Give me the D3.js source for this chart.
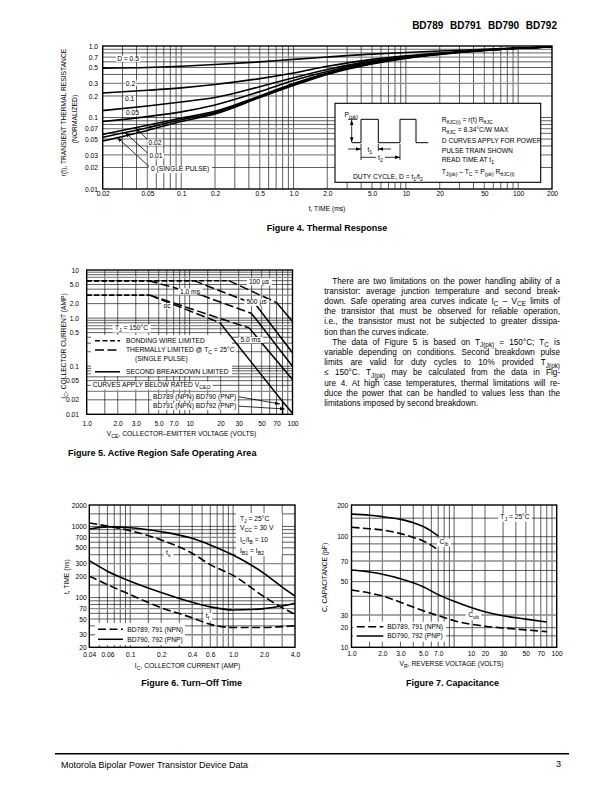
<!DOCTYPE html>
<html><head><meta charset="utf-8">
<script src="https://cdn.jsdelivr.net/npm/d3@7"></script>
<style>
body{margin:0;background:#fff}
svg{display:block}
text{font-family:"Liberation Sans",Arial,Helvetica,sans-serif;white-space:pre}
</style></head>
<body><svg id="page" width="614" height="792"></svg>
<script>
// ---------------- DATA ----------------
// Figure 4 – thermal response
const fig4Time = [0.02,0.05,0.1,0.2,0.5,1,2,5,10,20,50,100,200];
const fig4R_D050 = [0.49,0.50,0.52,0.55,0.60,0.65,0.70,0.77,0.81,0.85,0.90,0.94,0.97];
const fig4R_D020 = [0.22,0.24,0.26,0.29,0.35,0.42,0.52,0.65,0.73,0.80,0.88,0.93,0.97];
const fig4R_D010 = [0.125,0.145,0.165,0.19,0.27,0.36,0.47,0.62,0.71,0.78,0.87,0.93,0.97];
const fig4R_D005 = [0.088,0.103,0.12,0.15,0.23,0.33,0.44,0.60,0.70,0.78,0.87,0.93,0.97];
const fig4R_D002 = [0.058,0.078,0.098,0.122,0.20,0.30,0.42,0.58,0.69,0.77,0.87,0.93,0.97];
const fig4R_D001 = [0.053,0.072,0.093,0.117,0.195,0.29,0.41,0.57,0.68,0.77,0.87,0.93,0.97];
const fig4R_D000 = [0.047,0.066,0.088,0.112,0.19,0.28,0.40,0.56,0.67,0.76,0.86,0.93,0.97];
const fig4XTicks = [0.02,0.05,0.1,0.2,0.5,1,2,5,10,20,50,100,200];
const fig4XLabels = ["0.02","0.05","0.1","0.2","0.5","1.0","2.0","5.0","10","20","50","100","200"];
const fig4YTicks = [0.01,0.02,0.03,0.05,0.07,0.1,0.2,0.3,0.5,0.7,1];
const fig4YLabels = ["0.01","0.02","0.03","0.05","0.07","0.1","0.2","0.3","0.5","0.7","1.0"];

// Figure 5 – safe operating area (limit type per segment)
const soa100usV = [1,24,70,100];      const soa100usI = [6,6,2.1,0.85];     const soa100usSeg = ["bond","thermal","sb"];
const soa500usV = [1,11,44,100];      const soa500usI = [6,6,1.9,0.19];     const soa500usSeg = ["bond","thermal","sb"];
const soa1msV   = [1,4,13,40,100];    const soa1msI   = [6,6,3.0,1.25,0.1]; const soa1msSeg   = ["bond","thermal","thermal","sb"];
const soa5msV   = [1,4.1,38,100];     const soa5msI   = [3,3,0.62,0.053];   const soa5msSeg   = ["bond","thermal","sb"];
const soaDcV    = [1,4.1,19.7,80,100];const soaDcI    = [3,3,0.8,0.0185,0.0105]; const soaDcSeg = ["bond","thermal","sb","sb"];
const soaRatedV = [80, 100];   // BD789/790 and BD791/792 VCEO
const fig5XTicks = [1,2,3,5,7,10,20,30,50,70,100];
const fig5XLabels = ["1.0","2.0","3.0","5.0","7.0","10","20","30","50","70","100"];
const fig5YTicks = [0.01,0.02,0.05,0.1,0.5,1,2,5,10];
const fig5YLabels = ["0.01","0.02","0.05","0.1","0.5","1.0","2.0","5.0","10"];

// Figure 6 – turn-off time
const fig6Ic = [0.04,0.06,0.1,0.2,0.4,0.6,1.0,2.0,3.0,4.0];
const fig6TsNPN = [1120,1010,870,645,420,290,205,103,72,58];
const fig6TsPNP = [920,985,960,843,681,550,396,219,140,105];
const fig6TfNPN = [200,152,110,72,52,42,38,38,39,40];
const fig6TfPNP = [330,235,170,118,86,74,67,70,76,83];
const fig6XTicks = [0.04,0.06,0.1,0.2,0.4,0.6,1,2,4];
const fig6XLabels = ["0.04","0.06","0.1","0.2","0.4","0.6","1.0","2.0","4.0"];
const fig6YTicks = [20,30,50,70,100,200,300,500,700,1000,2000];
const fig6YLabels = ["20","30","50","70","100","200","300","500","700","1000","2000"];

// Figure 7 – capacitance
const fig7VrIb = [1,1.5,2,3,4,5,6,7];
const fig7CibPNP = [164,160,155,146,136,125,113,102];
const fig7CibNPN = [123,119,116,107,99,94,88,82];
const fig7VrOb = [1,1.5,2,3,5,7,10,20,30,50,80];
const fig7CobPNP = [60.4,58.5,56.5,52.5,46.3,41,37,31.5,29.3,26.3,24];
const fig7CobNPN = [44,42,40.2,36.5,32,29.5,25,21,19.8,18.5,17.4];
const fig7XTicks = [1,2,3,5,7,10,20,30,50,70,100];
const fig7XLabels = ["1.0","2.0","3.0","5.0","7.0","10","20","30","50","70","100"];
const fig7YTicks = [10,20,30,50,70,100,200];
const fig7YLabels = ["10","20","30","50","70","100","200"];

// ---------------- HELPERS ----------------
const svg = d3.select("#page");
const FONT = '"Liberation Sans", Arial, Helvetica, sans-serif';
const FS = 6.7;
svg.append("rect").attr("width",614).attr("height",792).attr("fill","#fff");
const defs = svg.append("defs");
defs.append("marker").attr("id","ah").attr("viewBox","0 0 10 10").attr("refX",10).attr("refY",5)
  .attr("markerWidth",5).attr("markerHeight",5).attr("orient","auto-start-reverse").attr("markerUnits","userSpaceOnUse")
  .append("path").attr("d","M0,1.5 L10,5 L0,8.5 Z").attr("fill","#000");

function rich(t, s, fs){
  const parts = s.split(/(_\{[^}]*\})/);
  let shifted = false;
  parts.forEach(p=>{
    if(!p) return;
    if(p.startsWith("_{")){
      t.append("tspan").attr("font-size",fs*0.78).attr("dy",fs*0.3).text(p.slice(2,-1));
      shifted = true;
    } else {
      const ts = t.append("tspan").text(p);
      if(shifted){ ts.attr("dy",-fs*0.3); shifted=false; }
    }
  });
}
function txt(g, x, y, s, o={}){
  const fs = o.fs||FS;
  const t = g.append("text").attr("x",x).attr("y",y).attr("font-size",fs)
    .attr("text-anchor",o.anchor||"start").attr("fill","#000");
  if(o.bold) t.attr("font-weight","bold");
  if(o.rotate) t.attr("transform",`rotate(${o.rotate},${x},${y})`);
  if(o.ws!=null) t.attr("word-spacing",o.ws);
  rich(t, s, fs);
  if(o.box){
    const b = t.node().getBBox(); const p = o.pad==null?1.2:o.pad;
    g.insert("rect",()=>t.node()).attr("x",b.x-p).attr("y",b.y+0.5).attr("width",b.width+2*p).attr("height",b.height-1).attr("fill","#fff");
  }
  return t;
}
function gridVals(lo, hi, mants){
  const v=[];
  for(let d=Math.floor(Math.log10(lo))-1; d<=Math.ceil(Math.log10(hi)); d++){
    mants.forEach(m=>{ const val=+(m*Math.pow(10,d)).toPrecision(4); if(val>lo*1.0001 && val<hi*0.9999) v.push(val); });
  }
  return v;
}
function mant(v){ return +(v/Math.pow(10,Math.floor(Math.log10(v)+1e-9))).toPrecision(3); }
function drawGrid(g, x, y, xv, yv, grayX, grayY){
  const [x0,x1]=d3.extent(x.range()), [y0,y1]=d3.extent(y.range());
  g.append("g").selectAll("line").data(xv).join("line")
    .attr("x1",d=>x(d)).attr("x2",d=>x(d)).attr("y1",y0).attr("y2",y1)
    .attr("stroke",d=>grayX.includes(mant(d))?"#8a8a8a":"#1a1a1a")
    .attr("stroke-width",d=>grayX.includes(mant(d))?1.3:0.7);
  g.append("g").selectAll("line").data(yv).join("line")
    .attr("y1",d=>y(d)).attr("y2",d=>y(d)).attr("x1",x0).attr("x2",x1)
    .attr("stroke",d=>grayY.includes(mant(d))?"#8a8a8a":"#1a1a1a")
    .attr("stroke-width",d=>grayY.includes(mant(d))?1.3:0.7);
}
function frame(g, x, y){
  const [x0,x1]=d3.extent(x.range()), [y0,y1]=d3.extent(y.range());
  g.append("rect").attr("x",x0).attr("y",y0).attr("width",x1-x0).attr("height",y1-y0)
    .attr("fill","none").attr("stroke","#000").attr("stroke-width",1.4);
}
function axes(g, x, y, xt, xl, yt, yl, padX, padY){
  const bottom = d3.max(y.range()), left = d3.min(x.range());
  const ax = g.append("g").attr("transform",`translate(0,${bottom})`)
    .call(d3.axisBottom(x).tickValues(xt).tickFormat((d,i)=>xl[i]).tickSize(0).tickPadding(padX));
  const ay = g.append("g").attr("transform",`translate(${left},0)`)
    .call(d3.axisLeft(y).tickValues(yt).tickFormat((d,i)=>yl[i]).tickSize(0).tickPadding(padY));
  [ax,ay].forEach(a=>{ a.select(".domain").remove(); a.attr("font-size",FS).attr("font-family",FONT); a.selectAll("text").attr("fill","#000"); });
  return {ax, ay};
}
function logInterp(xs, ys, xv){
  for(let i=0;i<xs.length-1;i++){
    if(xv>=xs[i] && xv<=xs[i+1]){
      const f=(Math.log(xv)-Math.log(xs[i]))/(Math.log(xs[i+1])-Math.log(xs[i]));
      return Math.exp(Math.log(ys[i])+f*(Math.log(ys[i+1])-Math.log(ys[i])));
    }
  }
  return ys[ys.length-1];
}
function arrow(g, x1,y1,x2,y2,w=0.8){
  g.append("line").attr("x1",x1).attr("y1",y1).attr("x2",x2).attr("y2",y2)
    .attr("stroke","#000").attr("stroke-width",w).attr("marker-end","url(#ah)");
}

// ---------------- HEADER / FOOTER / TEXT ----------------
txt(svg, 557, 29.3, "BD789 BD791 BD790 BD792", {fs:10, bold:true, anchor:"end", ws:4});
svg.append("line").attr("x1",55).attr("x2",569).attr("y1",753.8).attr("y2",753.8).attr("stroke","#000").attr("stroke-width",1.5);
txt(svg, 61, 768, "Motorola Bipolar Power Transistor Device Data", {fs:9});
txt(svg, 561, 767, "3", {fs:9, anchor:"end"});

const bodyLines = [
 ["There are two limitations on the power handling ability of a",1,1],
 ["transistor: average junction temperature and second break-",0,1],
 ["down. Safe operating area curves indicate I_{C} – V_{CE} limits of",0,1],
 ["the transistor that must be observed for reliable operation,",0,1],
 ["i.e., the transistor must not be subjected to greater dissipa-",0,1],
 ["tion than the curves indicate.",0,0],
 ["The data of Figure 5 is based on T_{J(pk)} = 150°C; T_{C} is",1,1],
 ["variable depending on conditions. Second breakdown pulse",0,1],
 ["limits are valid for duty cycles to 10% provided T_{J(pk)}",0,1],
 ["≤ 150°C. T_{J(pk)} may be calculated from the data in Fig-",0,1],
 ["ure 4. At high case temperatures, thermal limitations will re-",0,1],
 ["duce the power that can be handled to values less than the",0,1],
 ["limitations imposed by second breakdown.",0,0]
];
const bodyG = svg.append("g");
bodyLines.forEach((L,i)=>{
  const x0 = L[1]?332.3:324.3, x1 = 560;
  const t = txt(bodyG, x0, 283.6+i*10.2, L[0], {fs:8.2});
  if(L[2]){
    const w = t.node().getComputedTextLength();
    const n = (L[0].match(/ /g)||[]).length;
    if(n>0) t.attr("word-spacing", (x1-x0-w)/n);
  }
});

// ---------------- FIGURE 4 ----------------
{
  const g = svg.append("g");
  const x = d3.scaleLog().domain([0.02,200]).range([102.7,552]);
  const y = d3.scaleLog().domain([0.01,1]).range([189,46]);
  drawGrid(g, x, y, gridVals(0.02,200,[1,2,3,4,5,6,7,8,9]), gridVals(0.01,1,[1,2,3,4,5,6,7,8,9]), [2,5], [3,7]);
  const series = [fig4R_D050,fig4R_D020,fig4R_D010,fig4R_D005,fig4R_D002,fig4R_D001,fig4R_D000];
  const line = d3.line().x((d,i)=>x(fig4Time[i])).y(d=>y(d)).curve(d3.curveMonotoneX);
  g.append("g").selectAll("path").data(series).join("path").attr("d",line)
    .attr("fill","none").attr("stroke","#000").attr("stroke-width",1.6);
  frame(g, x, y);
  axes(g, x, y, fig4XTicks, fig4XLabels, fig4YTicks, fig4YLabels, 2.7, 4.7);
  const a = g.append("g");
  txt(a, 128, 61.4, "D = 0.5", {anchor:"middle", box:true});
  txt(a, 130.5, 85.7, "0.2", {anchor:"middle", box:true});
  txt(a, 129.7, 101.4, "0.1", {anchor:"middle", box:true});
  txt(a, 132.5, 115.4, "0.05", {anchor:"middle", box:true});
  txt(a, 148.5, 145.1, "0.02", {box:true});
  txt(a, 149.5, 158.4, "0.01", {box:true});
  txt(a, 151, 171.4, "0 (SINGLE PULSE)", {box:true, pad:2.5});
  arrow(a, 147, 139, x(0.039), y(logInterp(fig4Time,fig4R_D002,0.039)));
  arrow(a, 147.5, 153, x(0.0316), y(logInterp(fig4Time,fig4R_D001,0.0316)));
  arrow(a, 149, 166.5, x(0.027), y(logInterp(fig4Time,fig4R_D000,0.027)));
  // inset box
  const b = g.append("g");
  b.append("rect").attr("x",335).attr("y",103.3).attr("width",205.7).attr("height",79).attr("fill","#fff").attr("stroke","#000").attr("stroke-width",1.1);
  b.append("polyline").attr("points","351.7,142.7 361,142.7 361,119.3 378.3,119.3 378.3,142.7 400,142.7 400,119.3 416,119.3 416,142.7 428.3,142.7")
    .attr("fill","none").attr("stroke","#000").attr("stroke-width",1);
  b.append("line").attr("x1",348).attr("x2",357).attr("y1",119.3).attr("y2",119.3).attr("stroke","#000").attr("stroke-width",0.8);
  b.append("line").attr("x1",351.7).attr("x2",351.7).attr("y1",120).attr("y2",142.2).attr("stroke","#000").attr("stroke-width",0.8)
    .attr("marker-start","url(#ah)").attr("marker-end","url(#ah)");
  txt(b, 344.5, 117.2, "P_{(pk)}");
  arrow(b, 348, 149, 361, 149);
  arrow(b, 391, 149, 378.3, 149);
  b.append("line").attr("x1",361).attr("x2",361).attr("y1",144).attr("y2",160).attr("stroke","#000").attr("stroke-width",0.8);
  b.append("line").attr("x1",378.3).attr("x2",378.3).attr("y1",144).attr("y2",151).attr("stroke","#000").attr("stroke-width",0.8);
  b.append("line").attr("x1",400).attr("x2",400).attr("y1",144).attr("y2",160).attr("stroke","#000").attr("stroke-width",0.8);
  txt(b, 367.5, 151.5, "t_{1}");
  b.append("line").attr("x1",361).attr("x2",400).attr("y1",157.3).attr("y2",157.3).attr("stroke","#000").attr("stroke-width",0.8)
    .attr("marker-end","url(#ah)");
  txt(b, 380.5, 159.8, "t_{2}", {anchor:"middle", box:true, pad:2});
  txt(b, 353, 179, "DUTY CYCLE, D = t_{1}/t_{2}");
  const tx=441.7;
  txt(b, tx, 122.4, "R_{θJC(t)} = r(t) R_{θJC}");
  txt(b, tx, 131.7, "R_{θJC} = 8.34°C/W MAX");
  txt(b, tx, 143.1, "D CURVES APPLY FOR POWER");
  txt(b, tx, 152.7, "PULSE TRAIN SHOWN");
  txt(b, tx, 162.4, "READ TIME AT t_{1}");
  txt(b, tx, 173.7, "T_{J(pk)} – T_{C} = P_{(pk)} R_{θJC(t)}");
  txt(g, 66.4, 112.5, "r(t), TRANSIENT THERMAL RESISTANCE", {anchor:"middle", rotate:-90});
  txt(g, 77.4, 119, "(NORMALIZED)", {anchor:"middle", rotate:-90});
  txt(g, 327, 210.6, "t, TIME (ms)", {anchor:"middle"});
  txt(svg, 327, 231, "Figure 4. Thermal Response", {fs:9, bold:true, anchor:"middle"});
}

// ---------------- FIGURE 5 ----------------
{
  const g = svg.append("g");
  const x = d3.scaleLog().domain([1,100]).range([86.7,292.5]);
  const y = d3.scaleLog().domain([0.01,10]).range([414.3,270]);
  drawGrid(g, x, y, gridVals(1,100,[1,1.5,2,3,4,5,6,7,8,9]), gridVals(0.01,10,[1,2,3,4,5,6,7,8,9]), [2,5], [3,7]);
  const styles = {bond:"5,2.5", thermal:"9,3.5", sb:null};
  const curves = [[soa100usV,soa100usI,soa100usSeg],[soa500usV,soa500usI,soa500usSeg],[soa1msV,soa1msI,soa1msSeg],[soa5msV,soa5msI,soa5msSeg],[soaDcV,soaDcI,soaDcSeg]];
  const segs = [];
  curves.forEach(([V,I,S])=>{ S.forEach((s,i)=>segs.push({s, p:[[V[i],I[i]],[V[i+1],I[i+1]]]})); });
  const leg = g.append("g");
  leg.append("rect").attr("x",91).attr("y",335).attr("width",141).attr("height",41).attr("fill","#fff");
  g.append("g").selectAll("path").data(segs).join("path")
    .attr("d",d=>d3.line().x(p=>x(p[0])).y(p=>y(p[1]))(d.p))
    .attr("fill","none").attr("stroke","#000").attr("stroke-width",1.5)
    .attr("stroke-dasharray",d=>styles[d.s]);
  g.append("line").attr("x1",x(soaRatedV[0])).attr("x2",x(soaRatedV[0]))
    .attr("y1",y(logInterp(soaDcV,soaDcI,soaRatedV[0]))).attr("y2",y(0.01)).attr("stroke","#000").attr("stroke-width",1.5);
  frame(g, x, y);
  axes(g, x, y, fig5XTicks, fig5XLabels, fig5YTicks, fig5YLabels, 6.6, 7.7);
  const a = g.append("g");
  txt(a, 259, 283.9, "100 µs", {anchor:"middle", box:true, pad:2});
  txt(a, 190, 293.9, "1.0 ms", {anchor:"middle", box:true, pad:2});
  txt(a, 256.5, 304.4, "500 µs", {anchor:"middle", box:true, pad:2});
  txt(a, 167, 308.4, "dc", {anchor:"middle", box:true, pad:2});
  txt(a, 250.5, 342.4, "5.0 ms", {anchor:"middle", box:true, pad:2});
  txt(a, 131.5, 330.1, "T_{J} = 150°C", {anchor:"middle", box:true, pad:2.5});
  const lx0=95, lx1=120, tx=126;
  [["bond",340.8,"BONDING WIRE LIMITED"],["thermal",350,"THERMALLY LIMITED @ T_{C} = 25°C"],["sb",371.8,"SECOND BREAKDOWN LIMITED"]].forEach(r=>{
    a.append("line").attr("x1",lx0).attr("x2",lx1).attr("y1",r[1]).attr("y2",r[1]).attr("stroke","#000").attr("stroke-width",1.5).attr("stroke-dasharray",styles[r[0]]);
    txt(a, tx, r[1]+2.4, r[2], {box:true, pad:1.5});
  });
  txt(a, 135, 360.9, "(SINGLE PULSE)", {box:true});
  txt(a, 92.7, 387, "CURVES APPLY BELOW RATED V_{CEO}", {box:true, pad:2});
  txt(a, 153, 399.1, "BD789 (NPN) BD790 (PNP)", {box:true, pad:1.5});
  txt(a, 153, 408.4, "BD791 (NPN) BD792 (PNP)", {box:true, pad:1.5});
  arrow(a, 239, 396.8, x(75.5), y(0.0164));
  arrow(a, 239, 406.2, x(84), y(0.0129));
  txt(g, 65.8, 346, "I_{C}, COLLECTOR CURRENT (AMP)", {anchor:"middle", rotate:-90});
  txt(g, 181.5, 435.7, "V_{CE}, COLLECTOR–EMITTER VOLTAGE (VOLTS)", {anchor:"middle"});
  txt(svg, 68, 455.5, "Figure 5. Active Region Safe Operating Area", {fs:9, bold:true});
}

// ---------------- FIGURE 6 ----------------
{
  const g = svg.append("g");
  const x = d3.scaleLog().domain([0.04,4]).range([89.3,295]);
  const y = d3.scaleLog().domain([20,2000]).range([647.3,505]);
  drawGrid(g, x, y, gridVals(0.04,4,[1,1.5,2,3,4,5,6,7,8,9]), gridVals(20,2000,[1,1.5,2,3,4,5,6,7,8,9]), [2,5], [3,7]);
  const line = d3.line().x((d,i)=>x(fig6Ic[i])).y(d=>y(d)).curve(d3.curveMonotoneX);
  const ser = [[fig6TsNPN,"8,3.5"],[fig6TfNPN,"8,3.5"],[fig6TsPNP,null],[fig6TfPNP,null]];
  g.append("g").selectAll("path").data(ser).join("path").attr("d",d=>line(d[0]))
    .attr("fill","none").attr("stroke","#000").attr("stroke-width",1.6).attr("stroke-dasharray",d=>d[1]);
  frame(g, x, y);
  axes(g, x, y, fig6XTicks, fig6XLabels, fig6YTicks, fig6YLabels, 5.3, 2.6);
  const a = g.append("g");
  const nb = a.append("g");
  nb.append("rect").attr("x",236).attr("y",513).attr("width",46).attr("height",43).attr("fill","#fff");
  txt(nb, 240, 520.7, "T_{J} = 25°C");
  txt(nb, 240, 530.1, "V_{CC} = 30 V");
  txt(nb, 240, 542.4, "I_{C}/I_{B} = 10");
  txt(nb, 240, 553.4, "I_{B1} = I_{B2}");
  txt(a, 168.3, 555.4, "t_{s}", {anchor:"middle", box:true, pad:2.5});
  txt(a, 207.5, 618.4, "t_{f}", {anchor:"middle", box:true, pad:2.5});
  a.append("rect").attr("x",95).attr("y",623).attr("width",90).attr("height",22).attr("fill","#fff");
  a.append("line").attr("x1",98).attr("x2",123).attr("y1",629.3).attr("y2",629.3).attr("stroke","#000").attr("stroke-width",1.5).attr("stroke-dasharray","8,3.5");
  a.append("line").attr("x1",98).attr("x2",123).attr("y1",639.3).attr("y2",639.3).attr("stroke","#000").attr("stroke-width",1.5);
  txt(a, 127.3, 631.7, "BD789, 791 (NPN)");
  txt(a, 127.3, 641.7, "BD790, 792 (PNP)");
  txt(g, 69, 576.7, "t, TIME (ns)", {anchor:"middle", rotate:-90});
  txt(g, 187.5, 668.4, "I_{C}, COLLECTOR CURRENT (AMP)", {anchor:"middle"});
  txt(svg, 191.7, 685.5, "Figure 6. Turn–Off Time", {fs:9, bold:true, anchor:"middle"});
}

// ---------------- FIGURE 7 ----------------
{
  const g = svg.append("g");
  const x = d3.scaleLog().domain([1,100]).range([351.5,556.7]);
  const y = d3.scaleLog().domain([10,20,30,50,70,100,200]).range([647.3,627.7,615,581.7,561,536.7,505]);
  drawGrid(g, x, y, gridVals(1,100,[1,1.5,2,3,4,5,6,7,8,9]), gridVals(10,200,[1,1.5,2,3,4,5,6,7,8,9]), [2,5], [3,7]);
  const lineIb = d3.line().x((d,i)=>x(fig7VrIb[i])).y(d=>y(d)).curve(d3.curveMonotoneX);
  const lineOb = d3.line().x((d,i)=>x(fig7VrOb[i])).y(d=>y(d)).curve(d3.curveMonotoneX);
  const ser = [[lineIb(fig7CibPNP),null],[lineIb(fig7CibNPN),"8,3.5"],[lineOb(fig7CobPNP),null],[lineOb(fig7CobNPN),"8,3.5"]];
  g.append("g").selectAll("path").data(ser).join("path").attr("d",d=>d[0])
    .attr("fill","none").attr("stroke","#000").attr("stroke-width",1.6).attr("stroke-dasharray",d=>d[1]);
  frame(g, x, y);
  const {ax} = axes(g, x, y, fig7XTicks, fig7XLabels, fig7YTicks, fig7YLabels, 3.6, 3.2);
  ax.selectAll(".tick").filter(d=>d===10).select("text").attr("dx",17);
  const a = g.append("g");
  txt(a, 444, 544.1, "C_{ib}", {anchor:"middle", box:true, pad:2.5});
  txt(a, 473.5, 617.4, "C_{ob}", {anchor:"middle", box:true, pad:2.5});
  txt(a, 515, 519.1, "T_{J} = 25°C", {anchor:"middle", box:true, pad:2});
  a.append("rect").attr("x",353).attr("y",621.7).attr("width",93).attr("height",20).attr("fill","#fff");
  a.append("line").attr("x1",356.7).attr("x2",383.3).attr("y1",626.7).attr("y2",626.7).attr("stroke","#000").attr("stroke-width",1.5).attr("stroke-dasharray","8,3.5");
  a.append("line").attr("x1",356.7).attr("x2",383.3).attr("y1",636).attr("y2",636).attr("stroke","#000").attr("stroke-width",1.5);
  txt(a, 387.3, 629.1, "BD789, 791 (NPN)");
  txt(a, 387.3, 638.4, "BD790, 792 (PNP)");
  txt(g, 327.4, 577.5, "C, CAPACITANCE (pF)", {anchor:"middle", rotate:-90});
  txt(g, 451.5, 666.4, "V_{R}, REVERSE VOLTAGE (VOLTS)", {anchor:"middle"});
  txt(svg, 452.5, 685.5, "Figure 7. Capacitance", {fs:9, bold:true, anchor:"middle"});
}
</script></body></html>
